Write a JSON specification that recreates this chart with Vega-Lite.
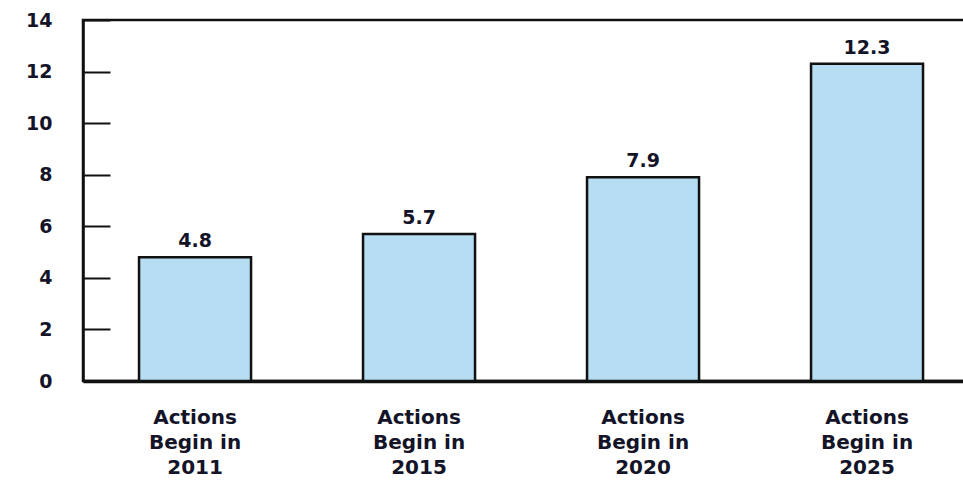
{
  "$schema": "https://vega.github.io/schema/vega-lite/v6.json",
  "autosize": "none",
  "width": 883,
  "height": 361,
  "padding": {"left": 83, "top": 20, "right": 0, "bottom": 99},
  "background": "white",
  "config": {
    "view": {"stroke": "#111111", "strokeWidth": 2.5},
    "font": "DejaVu Sans"
  },
  "data": {
    "values": [
      {"label": "Actions|Begin in|2011", "value": 4.8},
      {"label": "Actions|Begin in|2015", "value": 5.7},
      {"label": "Actions|Begin in|2020", "value": 7.9},
      {"label": "Actions|Begin in|2025", "value": 12.3}
    ]
  },
  "encoding": {
    "x": {
      "field": "label",
      "type": "nominal",
      "sort": null,
      "scale": {"paddingInner": 0.5, "paddingOuter": 0.221, "align": 0.566},
      "axis": {
        "title": null,
        "labelAngle": 0,
        "labelExpr": "split(datum.value, '|')",
        "ticks": false,
        "labelPadding": 26,
        "labelBaseline": "top",
        "labelLineHeight": 25,
        "labelFont": "DejaVu Sans",
        "labelFontWeight": "bold",
        "labelFontSize": 20,
        "labelColor": "#141428",
        "domainColor": "#111111",
        "domainWidth": 3.5
      }
    },
    "y": {
      "field": "value",
      "type": "quantitative",
      "scale": {"domain": [0, 14], "nice": false},
      "axis": {
        "title": null,
        "values": [0, 2, 4, 6, 8, 10, 12, 14],
        "grid": false,
        "tickSize": -27,
        "tickWidth": 2,
        "tickColor": "#111111",
        "labelPadding": 58,
        "labelFont": "DejaVu Sans",
        "labelFontWeight": "bold",
        "labelFontSize": 19,
        "labelColor": "#141428",
        "domainColor": "#111111",
        "domainWidth": 2.5
      }
    }
  },
  "layer": [
    {
      "mark": {"type": "bar", "fill": "#b6ddf2", "stroke": "#111111", "strokeWidth": 2.5}
    },
    {
      "mark": {"type": "text", "baseline": "bottom", "dy": -6, "font": "DejaVu Sans", "fontWeight": "bold", "fontSize": 19, "color": "#141428"},
      "encoding": {"text": {"field": "value", "type": "quantitative", "format": ".1f"}}
    }
  ]
}
